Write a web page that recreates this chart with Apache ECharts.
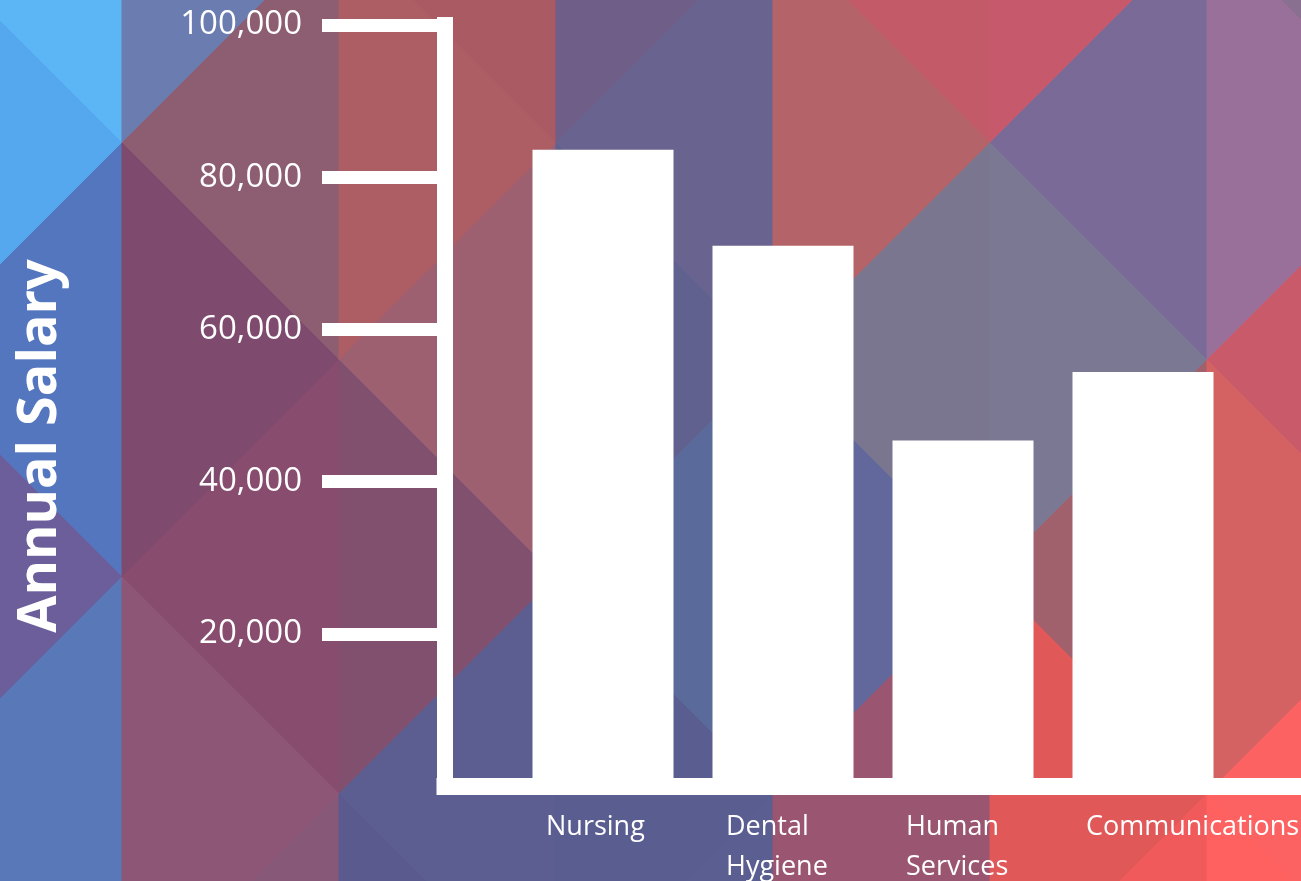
<!DOCTYPE html>
<html>
<head>
<meta charset="utf-8">
<script src="https://cdn.jsdelivr.net/npm/echarts@6/dist/echarts.min.js"></script>
<style>
html,body{margin:0;padding:0;width:1301px;height:881px;overflow:hidden;background:#6a5f8f;}
#chart{width:1301px;height:881px;}
</style>
</head>
<body>
<div id="chart"></div>
<script>
// ---- data ----
const categories = ['Nursing', 'Dental\nHygiene', 'Human\nServices', 'Communications'];
const salaries = [83600, 71000, 45400, 54400];
const yTickValues = [20000, 40000, 60000, 80000, 100000];
const yAxisTitle = 'Annual Salary';

// ---- decorative background (triangle lattice) ----
const bgColors = {
  '-1,-1': '#5cb6f6', '-1,0': '#56a8ee', '-1,1': '#5476be', '-1,2': '#6c5e9a', '-1,3': '#5878b8', '-1,4': '#5a6aaa',
  '0,-1': '#6a7cb0', '0,0': '#8d5d72', '0,1': '#7e4a6e', '0,2': '#874c6e', '0,3': '#8e5676', '0,4': '#885878',
  '1,-1': '#aa5a62', '1,0': '#ad5e64', '1,1': '#9c6070', '1,2': '#82506f', '1,3': '#5c5e92', '1,4': '#5a5a8e',
  '2,-1': '#6e5e88', '2,0': '#68648f', '2,1': '#60618e', '2,2': '#5a6a9b', '2,3': '#5a5d8f', '2,4': '#5a5e90',
  '3,-1': '#c25a68', '3,0': '#b46468', '3,1': '#7a7690', '3,2': '#62689c', '3,3': '#9a5570', '3,4': '#9a5570',
  '4,-1': '#c65a6c', '4,0': '#7a6a98', '4,1': '#7a7892', '4,2': '#a0606c', '4,3': '#e05858', '4,4': '#f05a5a',
  '5,-1': '#8a7090', '5,0': '#98709a', '5,1': '#c85a6a', '5,2': '#d46262', '5,3': '#fc6262', '5,4': '#ff6060'
};
const bgGraphics = [];
(function () {
  const X0 = 122, Y0 = 143, S = 217;
  const X = i => X0 + S * i, Y = k => Y0 + S * k;
  for (let i = -1; i <= 5; i++) {
    for (let k = -1; k <= 4; k++) {
      let pts;
      if (((k - i) % 2 + 2) % 2 === 1) {
        pts = [[X(i), Y(k - 1)], [X(i), Y(k + 1)], [X(i + 1), Y(k)]];
      } else {
        pts = [[X(i + 1), Y(k - 1)], [X(i + 1), Y(k + 1)], [X(i), Y(k)]];
      }
      bgGraphics.push({
        type: 'polygon', z: -10, silent: true,
        shape: { points: pts },
        style: { fill: bgColors[i + ',' + k] || '#6a5f8f', stroke: bgColors[i + ',' + k] || '#6a5f8f', lineWidth: 1 }
      });
    }
  }
})();

const chart = echarts.init(document.getElementById('chart'), null, { renderer: 'canvas' });
const FONT = '"Open Sans", "Noto Sans", sans-serif';
const WHITE = '#ffffff';

const option = {
  backgroundColor: 'transparent',
  animation: false,
  graphic: bgGraphics.concat([{
    type: 'text', z: 10,
    x: 41, y: 446, rotation: Math.PI / 2,
    style: {
      text: yAxisTitle, fill: WHITE, font: 'bold 54px ' + FONT,
      align: 'center', verticalAlign: 'middle'
    }
  }]),
  grid: [
    { left: 445, right: 0, top: 25, bottom: 95, outerBoundsMode: 'none', containLabel: false },
    { left: 513, width: 720, top: 25, bottom: 95, outerBoundsMode: 'none', containLabel: false },
    { left: 456, width: 720, top: 25, bottom: 95, outerBoundsMode: 'none', containLabel: false }
  ],
  xAxis: [
    {
      gridIndex: 0, type: 'category', data: categories, offset: 3,
      axisLine: { show: true, lineStyle: { color: WHITE, width: 17, cap: 'square' } },
      axisTick: { show: false }, axisLabel: { show: false }, splitLine: { show: false }
    },
    {
      gridIndex: 1, type: 'category', data: categories,
      axisLine: { show: false }, axisTick: { show: false }, axisLabel: { show: false }
    },
    {
      gridIndex: 2, type: 'category', data: categories,
      axisLine: { show: false }, axisTick: { show: false },
      axisLabel: {
        show: true, interval: 0, align: 'left', margin: 21,
        color: WHITE, fontFamily: FONT, fontSize: 27, lineHeight: 40
      }
    }
  ],
  yAxis: [
    {
      gridIndex: 0, type: 'value', min: 0, max: 100000, interval: 20000,
      axisLine: { show: true, lineStyle: { color: WHITE, width: 16, cap: 'square' } },
      axisTick: { show: true, customValues: yTickValues, length: 123, lineStyle: { color: WHITE, width: 13 } },
      axisLabel: {
        show: true, customValues: yTickValues, margin: 143,
        color: WHITE, fontFamily: FONT, fontSize: 33,
        formatter: v => Number(v).toLocaleString('en-US')
      },
      splitLine: { show: false }
    },
    {
      gridIndex: 1, type: 'value', min: 0, max: 100000, interval: 20000,
      axisLine: { show: false }, axisTick: { show: false }, axisLabel: { show: false }, splitLine: { show: false }
    },
    {
      gridIndex: 2, type: 'value', min: 0, max: 100000, interval: 20000,
      axisLine: { show: false }, axisTick: { show: false }, axisLabel: { show: false }, splitLine: { show: false }
    }
  ],
  series: [{
    type: 'bar', xAxisIndex: 1, yAxisIndex: 1,
    data: salaries, barWidth: 141,
    itemStyle: { color: WHITE },
    z: 1
  }]
};
chart.setOption(option);
</script>
</body>
</html>
